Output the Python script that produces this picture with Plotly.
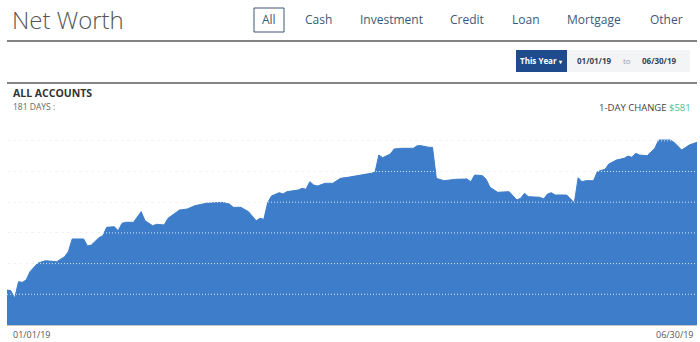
import plotly.graph_objects as go

# ---- data ----
dates = [
    "2019-01-01", "2019-01-02", "2019-01-03", "2019-01-04", "2019-01-05", "2019-01-06",
    "2019-01-07", "2019-01-09", "2019-01-11", "2019-01-13", "2019-01-14", "2019-01-16",
    "2019-01-17", "2019-01-18", "2019-01-21", "2019-01-22", "2019-01-23", "2019-01-25",
    "2019-01-26", "2019-01-27", "2019-01-29", "2019-01-30", "2019-01-31", "2019-02-01",
    "2019-02-03", "2019-02-05", "2019-02-06", "2019-02-08", "2019-02-09", "2019-02-11",
    "2019-02-12", "2019-02-15", "2019-02-17", "2019-02-19", "2019-02-22", "2019-02-26",
    "2019-02-28", "2019-03-01", "2019-03-03", "2019-03-05", "2019-03-07", "2019-03-08",
    "2019-03-09", "2019-03-10", "2019-03-11", "2019-03-13", "2019-03-14", "2019-03-15",
    "2019-03-18", "2019-03-19", "2019-03-20", "2019-03-21", "2019-03-22", "2019-03-23",
    "2019-03-25", "2019-03-27", "2019-03-29", "2019-03-31", "2019-04-02", "2019-04-04",
    "2019-04-06", "2019-04-07", "2019-04-08", "2019-04-09", "2019-04-11", "2019-04-12",
    "2019-04-14", "2019-04-17", "2019-04-18", "2019-04-19", "2019-04-21", "2019-04-22",
    "2019-04-23", "2019-04-25", "2019-04-27", "2019-04-28", "2019-05-01", "2019-05-02",
    "2019-05-03", "2019-05-05", "2019-05-06", "2019-05-07", "2019-05-09", "2019-05-12",
    "2019-05-14", "2019-05-15", "2019-05-16", "2019-05-17", "2019-05-20", "2019-05-21",
    "2019-05-22", "2019-05-23", "2019-05-24", "2019-05-27", "2019-05-29", "2019-05-30",
    "2019-05-31", "2019-06-01", "2019-06-03", "2019-06-04", "2019-06-06", "2019-06-07",
    "2019-06-09", "2019-06-11", "2019-06-12", "2019-06-13", "2019-06-14", "2019-06-15",
    "2019-06-17", "2019-06-19", "2019-06-20", "2019-06-23", "2019-06-24", "2019-06-26",
    "2019-06-28", "2019-06-30",
]
net_worth = [
    57000, 55900, 43500, 70500, 69500, 73300,
    86800, 100500, 104700, 104200, 103100, 111200,
    119400, 140100, 140100, 128700, 130300, 142200,
    145400, 159100, 160100, 153600, 165600, 167300,
    167300, 184500, 169900, 161700, 164000, 162900,
    173800, 187300, 188900, 194300, 198200, 199800,
    197100, 191700, 191700, 184500, 169900, 173800,
    172100, 199200, 210100, 215500, 213400, 217100,
    219900, 222600, 221000, 233400, 228000, 226400,
    230800, 230800, 238900, 240600, 242700, 244300,
    247100, 248700, 276900, 272500, 278500, 286700,
    287800, 287800, 292000, 292000, 289400, 289400,
    238900, 235000, 236200, 237300, 237800, 233400,
    244300, 243200, 237300, 224300, 216100, 217100,
    203600, 206400, 214500, 209000, 208000, 205200,
    213400, 215500, 211700, 211700, 199200, 239900,
    233400, 235000, 235000, 249700, 253600, 262200,
    268700, 271500, 275200, 273100, 279600, 276900,
    275700, 287800, 301300, 301300, 297600, 285000,
    293200, 297600,
]
tabs = ["All", "Cash", "Investment", "Credit", "Loan", "Mortgage", "Other"]
tab_centers = [269, 318, 391, 467, 526, 594, 666]
start_label = "01/01/19"
end_label = "06/30/19"
days_label = "181 DAYS :"
change_value = "$581"

# ---- layout geometry ----
W, H = 700, 342
ML, MR, MT, MB = 7, 3, 135, 17
PW, PH = W - ML - MR, H - MT - MB
GRID_STEP = 50000
GRID_PX = 30.7
Y_TOP = PH / GRID_PX * GRID_STEP
FILL = "#3d7dca"
FONT = "Open Sans, Noto Sans, sans-serif"


def px(x):
    return (x - ML) / PW


def py(y):
    return (H - MB - y) / PH


fig = go.Figure()
fig.add_trace(go.Scatter(
    x=dates, y=net_worth, mode="lines", fill="tozeroy",
    line=dict(color=FILL, width=1), fillcolor=FILL, hoverinfo="skip",
))

shapes = []
# gridlines drawn above the area
g = GRID_STEP
while g <= Y_TOP:
    shapes.append(dict(type="line", xref="paper", yref="y", x0=0, x1=1, y0=g, y1=g,
                       line=dict(color="rgba(255,255,255,0.8)", width=1, dash="1px,2px"),
                       layer="above"))
    g += GRID_STEP
# header rules
for yy in (41, 83):
    shapes.append(dict(type="line", xref="paper", yref="paper", x0=px(7), x1=px(697),
                       y0=py(yy), y1=py(yy), line=dict(color="#5a5a5a", width=1.5)))
# "All" tab box
shapes.append(dict(type="rect", xref="paper", yref="paper", x0=px(254), x1=px(284),
                   y0=py(32), y1=py(8), line=dict(color="#3b5670", width=1),
                   fillcolor="rgba(0,0,0,0)"))
# date range controls
shapes.append(dict(type="rect", xref="paper", yref="paper", x0=px(567), x1=px(690),
                   y0=py(72), y1=py(50), line=dict(width=0), fillcolor="#f3f4f5"))
shapes.append(dict(type="rect", xref="paper", yref="paper", x0=px(516), x1=px(567),
                   y0=py(72), y1=py(50), line=dict(width=0), fillcolor="#1d4b8b"))

ann = []


def text(x, y, s, size, color, anchor="left", bold=False, weight=None):
    f = dict(family=FONT, size=size, color=color)
    if weight is not None:
        f["weight"] = weight
    elif bold:
        f["weight"] = "bold"
    ann.append(dict(xref="paper", yref="paper", x=px(x), y=py(y), text=s,
                    showarrow=False, xanchor=anchor, yanchor="middle", font=f,
                    borderpad=0))


text(11, 20, "Net Worth", 24, "#555555", weight=300)
for t, c in zip(tabs, tab_centers):
    text(c, 20, t, 12, "#3b5a78", anchor="center")
text(541, 61, "This Year <span style='font-size:6px'>▾</span>", 8, "#ffffff", anchor="center", bold=True)
text(594, 61, start_label, 8, "#34475c", anchor="center", bold=True)
text(627, 61, "to", 8, "#9aa0a6", anchor="center")
text(659, 61, end_label, 8, "#34475c", anchor="center", bold=True)
text(12, 93, "ALL ACCOUNTS", 10.5, "#333333", bold=True)
text(12, 106.5, days_label, 8.5, "#666666")
text(692, 107, "1-DAY CHANGE <span style='color:#3fbf98'>" + change_value + "</span>", 9.5,
     "#444444", anchor="right")
text(12, 334, start_label, 9, "#555555")
text(694, 334, end_label, 9, "#555555", anchor="right")

fig.update_layout(
    width=W, height=H, margin=dict(l=ML, r=MR, t=MT, b=MB, pad=0),
    paper_bgcolor="white", plot_bgcolor="white", showlegend=False,
    shapes=shapes, annotations=ann, hovermode=False,
    xaxis=dict(type="date", range=["2019-01-01", "2019-06-30"], showgrid=False,
               showticklabels=False, ticks="", zeroline=False, showline=True,
               linecolor="#c4c8cc", linewidth=1, fixedrange=True),
    yaxis=dict(range=[0, Y_TOP], dtick=GRID_STEP, showgrid=True, gridcolor="#f1f1f1",
               griddash="dot", showticklabels=False, ticks="", zeroline=False,
               showline=False, fixedrange=True),
)

fig.write_html("out.html", config={"displayModeBar": False})
